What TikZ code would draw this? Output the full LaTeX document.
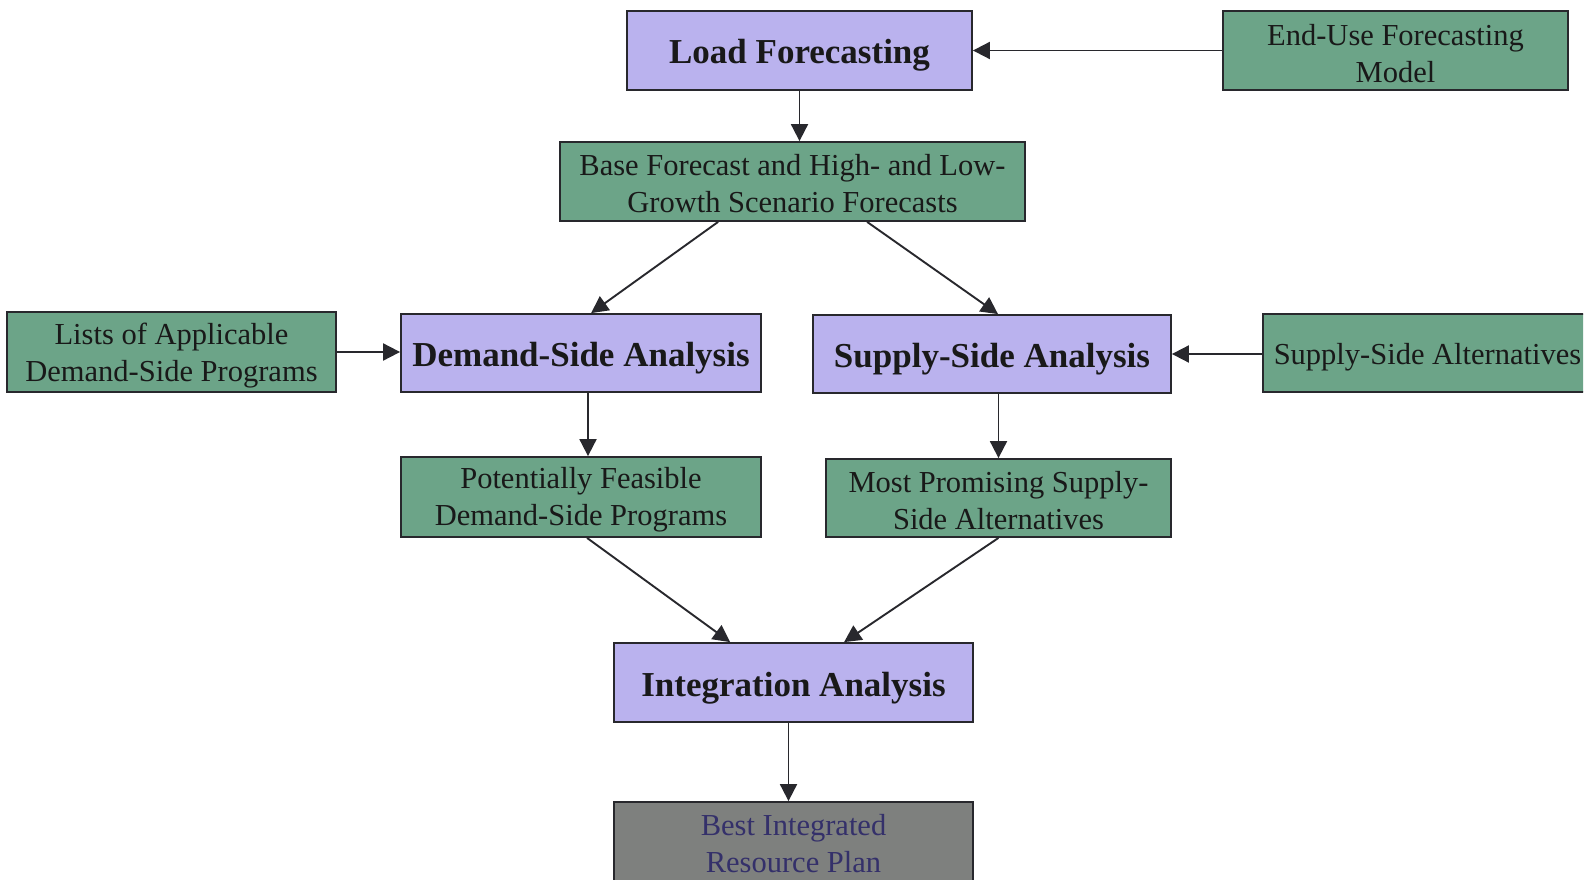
\documentclass[tikz,border=0pt]{standalone}
\usepackage{fontspec}
\setmainfont{Liberation Serif}
\usetikzlibrary{arrows.meta,calc}
\definecolor{lav}{RGB}{186,178,238}
\definecolor{grn}{RGB}{108,164,136}
\definecolor{gry}{RGB}{126,128,126}
\definecolor{navy}{RGB}{52,48,106}
\definecolor{edge}{RGB}{40,40,45}
\tikzset{
  box/.style={draw=edge,line width=1.8pt,inner sep=0pt},
  main/.style={box,fill=lav},
  sub/.style={box,fill=grn},
  mtxt/.style={inner sep=0pt,align=center,text=black!90,font=\fontsize{35}{40}\selectfont\bfseries},
  stxt/.style={inner sep=0pt,align=center,text=black!90,font=\fontsize{30.5}{37}\selectfont},
  arr/.style={draw=edge,line width=1.9pt,-{Triangle[length=17pt,width=17pt]}}
}
\begin{document}
\begin{tikzpicture}[x=1pt,y=-1pt]
\useasboundingbox (0,0) rectangle (1588,880);
\fill[white] (0,0) rectangle (1588,880);
\node[main,minimum width=345pt,minimum height=79pt] (lf) at (799.5,50.5) {};
\node[mtxt] (lft) at ($(lf)+(0,5)$) {Load Forecasting};
\node[sub,minimum width=345pt,minimum height=79pt] (eu) at (1395.5,50.5) {};
\node[stxt] (eut) at ($(eu)+(0,3)$) {End-Use Forecasting\\Model};
\node[sub,minimum width=465pt,minimum height=79pt] (bf) at (792.5,181.5) {};
\node[stxt] (bft) at ($(bf)+(0,2.5)$) {Base Forecast and High- and Low-\\Growth Scenario Forecasts};
\node[sub,minimum width=329pt,minimum height=80pt] (ls) at (171.5,352) {};
\node[stxt] (lst) at ($(ls)+(0,4)$) {Lists of Applicable\\Demand-Side Programs};
\node[main,minimum width=360pt,minimum height=78pt] (da) at (581,353) {};
\node[mtxt] (dat) at ($(da)+(0,5)$) {Demand-Side Analysis};
\node[main,minimum width=358pt,minimum height=78pt] (sa) at (992,354) {};
\node[mtxt] (sat) at ($(sa)+(0,5)$) {Supply-Side Analysis};
\begin{scope}
\clip (0,0) rectangle (1583,880);
\node[sub,minimum width=337pt,minimum height=78pt] (alt) at (1431.5,353) {};
\end{scope}
\node[stxt] (altt) at ($(alt)+(-4,4)$) {Supply-Side Alternatives};
\node[sub,minimum width=360pt,minimum height=80pt] (pf) at (581,497) {};
\node[stxt] (pft) at ($(pf)+(0,3)$) {Potentially Feasible\\Demand-Side Programs};
\node[sub,minimum width=345pt,minimum height=78pt] (mp) at (998.5,498) {};
\node[stxt] (mpt) at ($(mp)+(0,3)$) {Most Promising Supply-\\Side Alternatives};
\node[main,minimum width=359pt,minimum height=79pt] (ia) at (793.5,682.5) {};
\node[mtxt] (iat) at ($(ia)+(0,6)$) {Integration Analysis};
\begin{scope}
\clip (0,0) rectangle (1588,880);
\node[box,fill=gry,minimum width=359pt,minimum height=80pt] (bp) at (793.5,842) {};
\end{scope}
\node[stxt,text=navy] (bpt) at ($(bp)+(0,1.5)$) {Best Integrated\\Resource Plan};
\draw[arr] (lf.south) -- (lf.south |- bf.north);
\draw[arr] (eu.west) -- (eu.west -| lf.east);
\draw[arr] ($(bf.south west)+(159,0)$) -- ($(da.north west)+(191,0)$);
\draw[arr] ($(bf.south west)+(308,0)$) -- ($(sa.north)+(6,0)$);
\draw[arr] (ls.east) -- (ls.east -| da.west);
\draw[arr] (alt.west |- sa.east) -- (sa.east);
\draw[arr] ($(da.south)+(7,0)$) -- ($(pf.north)+(7,0)$);
\draw[arr] (mp.north |- sa.south) -- (mp.north);
\draw[arr] ($(pf.south)+(6,0)$) -- ($(ia.north west)+(117,0)$);
\draw[arr] (mp.south) -- ($(ia.north west)+(231,0)$);
\draw[arr] ($(ia.south)+(-5,0)$) -- ($(bp.north)+(-5,0)$);
\end{tikzpicture}
\end{document}
